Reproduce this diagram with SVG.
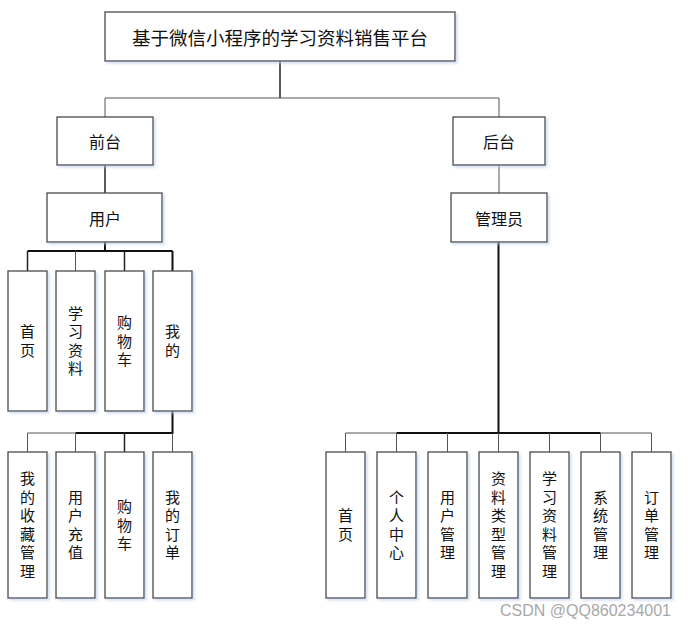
<svg xmlns="http://www.w3.org/2000/svg" width="690" height="628" viewBox="0 0 690 628">
<defs>
<filter id="sh" x="-20%" y="-20%" width="140%" height="140%">
<feDropShadow dx="2" dy="2" stdDeviation="1.2" flood-color="#b9cbe8" flood-opacity="0.6"/>
</filter>
</defs>
<style>
.box{fill:#fff;stroke:#4a4a4a;stroke-width:1.3;filter:url(#sh)}
.t{font-family:"Noto Sans CJK SC","Liberation Sans",sans-serif;fill:#111;text-anchor:middle;dominant-baseline:central}
.v{font-size:15px;writing-mode:vertical-rl;letter-spacing:3.5px}
.thin{stroke:#555;stroke-width:1;fill:none}
.thick{stroke:#111;stroke-width:2;fill:none}
.mid{stroke:#222;stroke-width:1.5;fill:none}
.wm{font-family:"Liberation Sans",Arial,sans-serif;font-size:16px;fill:#a8a8a8}
</style>
<rect width="690" height="628" fill="#fff"/>
<g id="connectors">
<path class="mid" d="M280 61V98"/>
<path class="thin" d="M105 98H499M105 98V117M499 98V117"/>
<path class="mid" d="M105 165V193"/>
<path class="thin" d="M499 165V193"/>
<path class="thick" d="M105 242V251M27.5 251H172.5M172.5 251V271"/>
<path class="mid" d="M27.5 251V271M124.5 251V271"/>
<path class="thin" d="M75.5 251V271"/>
<path class="thick" d="M172.5 411V433H75.5"/>
<path class="thin" d="M75.5 433H27.5V452M75.5 433V452M172.5 433V452"/>
<path class="mid" d="M124.5 433V452"/>
<path class="thick" d="M498.5 242V433M396.5 433H600.5"/>
<path class="thin" d="M345.5 433H396.5M600.5 433H651.5M345.5 433V452M396.5 433V452M447.5 433V452M498.5 433V452M549.5 433V452M600.5 433V452M651.5 433V452"/>
</g>
<g id="root"><rect class="box" x="105" y="12" width="350" height="49"/><text class="t" x="280" y="37" font-size="18.5">基于微信小程序的学习资料销售平台</text></g>
<g id="front"><rect class="box" x="57" y="117" width="96" height="48"/><text class="t" x="105" y="141" font-size="16">前台</text></g>
<g id="back"><rect class="box" x="453" y="117" width="92" height="48"/><text class="t" x="499" y="141" font-size="16">后台</text></g>
<g id="user"><rect class="box" x="47" y="193" width="115" height="49"/><text class="t" x="105" y="217.5" font-size="16">用户</text></g>
<g id="admin"><rect class="box" x="451" y="193" width="96" height="49"/><text class="t" x="499" y="217.5" font-size="16">管理员</text></g>

<g id="u-home"><rect class="box" x="8" y="271" width="39" height="140"/><text class="t v" x="27.5" y="342.75">首页</text></g>
<g id="u-material"><rect class="box" x="56" y="271" width="39" height="140"/><text class="t v" x="75.5" y="342.75">学习资料</text></g>
<g id="u-cart"><rect class="box" x="105" y="271" width="39" height="140"/><text class="t v" x="124.5" y="342.75">购物车</text></g>
<g id="u-mine"><rect class="box" x="153" y="271" width="39" height="140"/><text class="t v" x="172.5" y="342.75">我的</text></g>

<g id="m-fav"><rect class="box" x="8" y="452" width="39" height="146"/><text class="t v" x="27.5" y="526.75">我的收藏管理</text></g>
<g id="m-recharge"><rect class="box" x="56" y="452" width="39" height="146"/><text class="t v" x="75.5" y="526.75">用户充值</text></g>
<g id="m-cart"><rect class="box" x="105" y="452" width="39" height="146"/><text class="t v" x="124.5" y="526.75">购物车</text></g>
<g id="m-order"><rect class="box" x="153" y="452" width="39" height="146"/><text class="t v" x="172.5" y="526.75">我的订单</text></g>

<g id="a-home"><rect class="box" x="326" y="452" width="39" height="146"/><text class="t v" x="345.5" y="526.75">首页</text></g>
<g id="a-center"><rect class="box" x="377" y="452" width="39" height="146"/><text class="t v" x="396.5" y="526.75">个人中心</text></g>
<g id="a-user"><rect class="box" x="428" y="452" width="39" height="146"/><text class="t v" x="447.5" y="526.75">用户管理</text></g>
<g id="a-type"><rect class="box" x="479" y="452" width="39" height="146"/><text class="t v" x="498.5" y="526.75">资料类型管理</text></g>
<g id="a-material"><rect class="box" x="530" y="452" width="39" height="146"/><text class="t v" x="549.5" y="526.75">学习资料管理</text></g>
<g id="a-system"><rect class="box" x="581" y="452" width="39" height="146"/><text class="t v" x="600.5" y="526.75">系统管理</text></g>
<g id="a-order"><rect class="box" x="632" y="452" width="39" height="146"/><text class="t v" x="651.5" y="526.75">订单管理</text></g>

<text class="wm" x="500" y="616">CSDN @QQ860234001</text>
</svg>
